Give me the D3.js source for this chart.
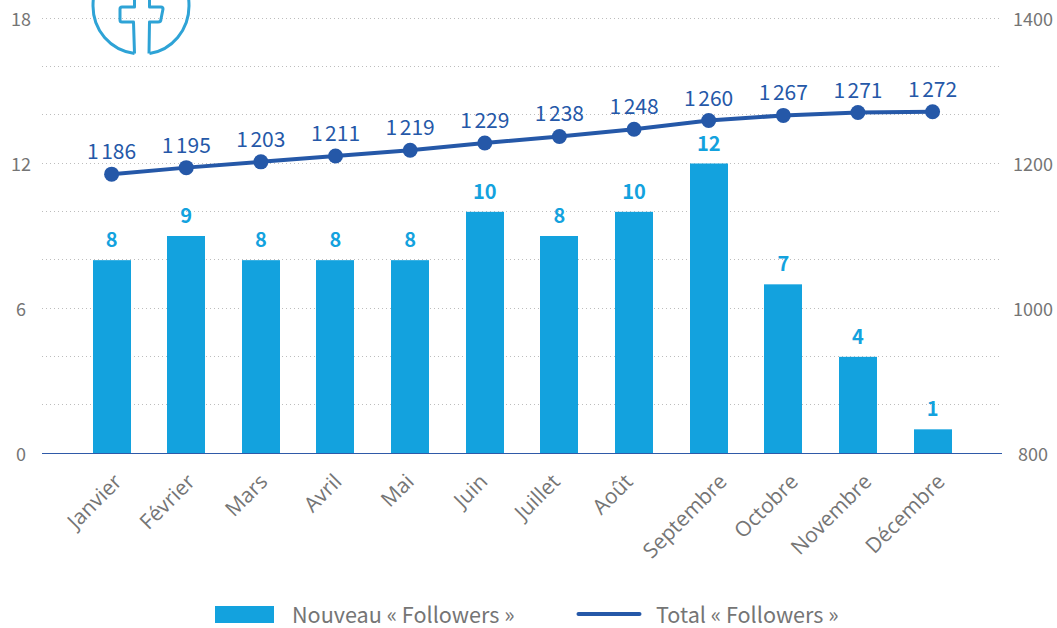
<!DOCTYPE html>
<html><head><meta charset="utf-8">
<script src="https://cdn.jsdelivr.net/npm/d3@7"></script>
<style>html,body{margin:0;padding:0;background:#fff}svg{display:block}</style>
</head><body><svg id="c" width="1057" height="628"></svg>
<script>
const months=["Janvier","Février","Mars","Avril","Mai","Juin","Juillet","Août","Septembre","Octobre","Novembre","Décembre"];
const newFollowers=[8,9,8,8,8,10,9,10,12,7,4,1];
const newLabels=[8,9,8,8,8,10,8,10,12,7,4,1];
const totalFollowers=[1186,1195,1203,1211,1219,1229,1238,1248,1260,1267,1271,1272];
const leftTicks=[0,6,12,18];
const rightTicks=[800,1000,1200,1400];
const gridTicks=[2,4,6,8,10,12,14,16,18];
const seriesNames=["Nouveau « Followers »","Total « Followers »"];
const monthLabelShift=[11.5,10,8,7.5,5,4,2,0,19.5,16,15,13.5];
const sans='"Noto Sans CJK SC","Noto Sans",sans-serif';
const svg=d3.select("#c");
const x=d3.scaleBand().domain(months).range([74.3,969.9]).paddingInner(0.49).paddingOuter(0.245);
const yL=d3.scaleLinear().domain([0,18]).range([453.5,18.5]);
const yR=d3.scaleLinear().domain([800,1400]).range([454,19]);
const cx=m=>x(m)+x.bandwidth()/2;
// gridlines
svg.append("g").selectAll("line").data(gridTicks).join("line")
 .attr("x1",42).attr("x2",1002).attr("y1",d=>Math.round(yL(d))-.5).attr("y2",d=>Math.round(yL(d))-.5)
 .attr("stroke","#bdbdbd").attr("stroke-width",1).attr("stroke-dasharray","1 3");
// icon
const ic=svg.append("g").attr("fill","none").attr("stroke","#2ea3d6").attr("stroke-width",3).attr("stroke-linejoin","round");
ic.append("path").attr("d","M134.5 53.5C110 50 93 30 93 6C93 -4 95 -12 98 -18");
ic.append("path").attr("d","M149.5 53.5C172 50 189 30 189 6C189 -4 187 -12 184 -18");
ic.append("path").attr("d","M134.5 53.5L133.5 22H122Q120 22 120 20V9Q120 7 122 7H134.5V-5");
ic.append("path").attr("d","M149 53.5L149.5 22H158Q161 22 161 19L163 9Q163 7 161 7H149.5V-5");
// bars
svg.append("g").selectAll("rect").data(months).join("rect")
 .attr("x",m=>Math.round(x(m))).attr("width",38)
 .attr("y",(m,i)=>yL(newFollowers[i])).attr("height",(m,i)=>yL(0)-yL(newFollowers[i]))
 .attr("fill","#13a2de");
// baseline
svg.append("line").attr("x1",42).attr("x2",1002).attr("y1",453.5).attr("y2",453.5).attr("stroke","#2f5aa8").attr("stroke-width",1.2);
// bar labels
svg.append("g").selectAll("text").data(months).join("text")
 .attr("x",cx).attr("y",(m,i)=>yL(newFollowers[i])-13).attr("text-anchor","middle")
 .attr("font-family",sans).attr("font-size",20).attr("font-weight",700).attr("fill","#13a2de")
 .text((m,i)=>newLabels[i]);
// line
const line=d3.line().x((d,i)=>cx(months[i])).y(d=>yR(d));
svg.append("path").attr("d",line(totalFollowers)).attr("fill","none").attr("stroke","#2558a8").attr("stroke-width",4);
svg.append("g").selectAll("circle").data(totalFollowers).join("circle")
 .attr("cx",(d,i)=>cx(months[i])).attr("cy",d=>yR(d)).attr("r",7.5).attr("fill","#2558a8");
const tl=svg.append("g").selectAll("text").data(totalFollowers).join("text")
 .attr("x",(d,i)=>cx(months[i])).attr("y",d=>yR(d)-15).attr("text-anchor","middle")
 .attr("font-family",sans).attr("font-size",21).attr("fill","#2558a8");
tl.append("tspan").text(d=>String(d).slice(0,1));
tl.append("tspan").attr("dx",2.5).text(d=>String(d).slice(1));
// axes
const axT=(sel)=>sel.attr("font-family",sans).attr("font-size",18).attr("fill","#757575");
axT(svg.append("g").selectAll("text").data(leftTicks).join("text")
 .attr("x",21).attr("y",d=>yL(d)+7).attr("text-anchor","middle").text(d=>d));
axT(svg.append("g").selectAll("text").data(rightTicks).join("text")
 .attr("x",1033).attr("y",d=>yR(d)+6.5).attr("text-anchor","middle").text(d=>d));
// category labels
svg.append("g").selectAll("text").data(months).join("text")
 .attr("text-anchor","end").attr("font-family",'"Open Sans",sans-serif').attr("font-size",21).attr("fill","#757575")
 .attr("transform",(m,i)=>`translate(${cx(m)+monthLabelShift[i]},483) rotate(-45)`).text(m=>m);
// legend
svg.append("rect").attr("x",215).attr("y",606).attr("width",59).attr("height",17).attr("fill","#13a2de");
svg.append("line").attr("x1",578.5).attr("x2",639.5).attr("y1",614).attr("y2",614).attr("stroke","#2558a8").attr("stroke-width",4).attr("stroke-linecap","round");
svg.append("g").selectAll("text").data(seriesNames).join("text")
 .attr("x",(d,i)=>[292,656][i]).attr("y",622.5).attr("font-family",sans).attr("font-size",21.6).attr("fill","#757575").text(d=>d);
</script></body></html>
